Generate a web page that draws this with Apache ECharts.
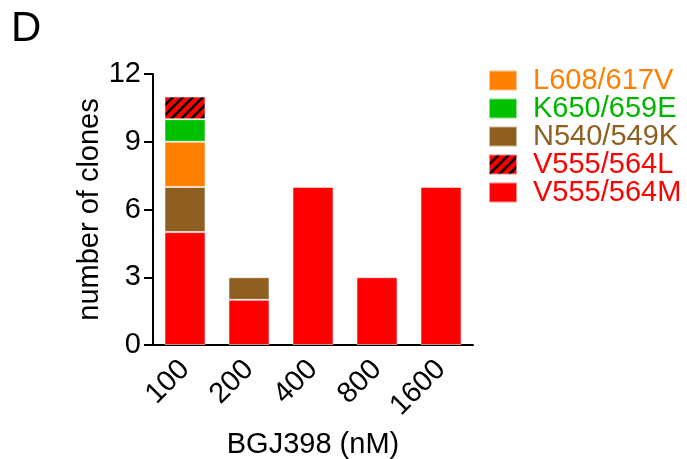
<!DOCTYPE html>
<html>
<head>
<meta charset="utf-8">
<script src="https://cdn.jsdelivr.net/npm/echarts@6/dist/echarts.min.js"></script>
<style>
  html, body { margin: 0; padding: 0; background: #fff; }
  #chart { width: 687px; height: 459px; }
</style>
</head>
<body>
<div id="chart"></div>
<script>
// BGJ398 concentrations (nM) on the x axis
var doses = ['100', '200', '400', '800', '1600'];

// clone counts per mutation at each dose (stack order: bottom to top)
var v555_564M = [5, 2, 7, 3, 7];
var n540_549K = [2, 1, null, null, null];
var l608_617V = [2, null, null, null, null];
var k650_659E = [1, null, null, null, null];
var v555_564L = [1, null, null, null, null];

var yTicks = { min: 0, max: 12, interval: 3 };

// legend listing, top to bottom
var legendOrder = ['L608/617V', 'K650/659E', 'N540/549K', 'V555/564L', 'V555/564M'];

var RED = '#ff0000';
var BROWN = '#8e5f20';
var ORANGE = '#ff8000';
var GREEN = '#00c000';
var FONT = 'Arial, "Liberation Sans", sans-serif';
var FS = 29;

// red tile with black "/" stripes for the V555/564L segment
function hatchTile() {
  var c = document.createElement('canvas');
  c.width = 10; c.height = 10;
  var g = c.getContext('2d');
  g.fillStyle = RED;
  g.fillRect(0, 0, 10, 10);
  g.strokeStyle = '#000';
  g.lineWidth = 2.6;
  g.beginPath();
  g.moveTo(-2, 12); g.lineTo(12, -2);
  g.moveTo(-2, 2); g.lineTo(2, -2);
  g.moveTo(8, 12); g.lineTo(12, 8);
  g.stroke();
  return c;
}
var hatch = { image: hatchTile(), repeat: 'repeat' };

function bar(name, data, color) {
  return {
    name: name,
    type: 'bar',
    stack: 'clones',
    barWidth: 41,
    data: data,
    itemStyle: { color: color, borderColor: 'rgba(255,255,255,0.55)', borderWidth: 1 }
  };
}

var chart = echarts.init(document.getElementById('chart'), null, { renderer: 'canvas' });
chart.setOption({
  animation: false,
  backgroundColor: '#fff',
  textStyle: { fontFamily: FONT },
  graphic: [{
    type: 'text',
    left: 11,
    top: 8,
    style: { text: 'D', font: '42px ' + FONT, fill: '#000' }
  }],
  grid: {
    left: 153, right: 214, top: 74, bottom: 114,
    containLabel: false,
    outerBoundsMode: 'none'
  },
  legend: {
    orient: 'vertical',
    left: 483,
    top: 61,
    itemWidth: 28,
    itemHeight: 20,
    itemGap: -1,
    icon: 'rect',
    selectedMode: false,
    textStyle: { fontSize: FS, fontFamily: FONT, padding: [0, 0, 0, 11] },
    data: [
      { name: legendOrder[0], textStyle: { color: ORANGE } },
      { name: legendOrder[1], textStyle: { color: '#00b400' } },
      { name: legendOrder[2], textStyle: { color: BROWN } },
      { name: legendOrder[3], textStyle: { color: RED } },
      { name: legendOrder[4], textStyle: { color: RED } }
    ]
  },
  xAxis: {
    type: 'category',
    data: doses,
    name: 'BGJ398 (nM)',
    nameLocation: 'middle',
    nameGap: 85,
    nameTextStyle: { fontSize: FS, color: '#000', fontFamily: FONT },
    axisLine: { lineStyle: { color: '#000', width: 2 } },
    axisTick: { alignWithLabel: true, length: 8, lineStyle: { color: '#000', width: 2 } },
    axisLabel: { rotate: 45, fontSize: FS, color: '#000', margin: 20, fontFamily: FONT }
  },
  yAxis: {
    type: 'value',
    min: yTicks.min,
    max: yTicks.max,
    interval: yTicks.interval,
    name: 'number of clones',
    nameLocation: 'middle',
    nameRotate: 90,
    nameGap: 35,
    nameTextStyle: { fontSize: FS, color: '#000', fontFamily: FONT },
    axisLine: { show: true, lineStyle: { color: '#000', width: 2 } },
    axisTick: { show: true, inside: false, length: 9, lineStyle: { color: '#000', width: 2 } },
    axisLabel: { fontSize: FS, color: '#000', margin: 12, fontFamily: FONT },
    splitLine: { show: false }
  },
  series: [
    bar('V555/564M', v555_564M, RED),
    bar('N540/549K', n540_549K, BROWN),
    bar('L608/617V', l608_617V, ORANGE),
    bar('K650/659E', k650_659E, GREEN),
    bar('V555/564L', v555_564L, hatch)
  ]
});
</script>
</body>
</html>
